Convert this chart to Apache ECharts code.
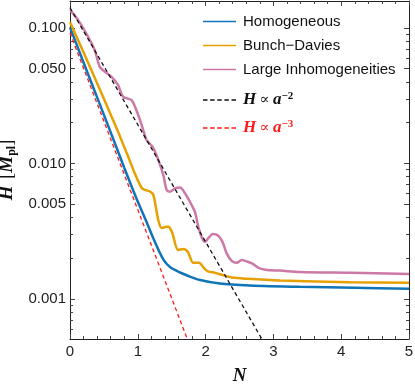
<!DOCTYPE html>
<html>
<head>
<meta charset="utf-8">
<script src="https://cdn.jsdelivr.net/npm/echarts@6/dist/echarts.min.js"></script>
<style>
  html, body { margin: 0; padding: 0; background: #fff; }
  #chart { width: 415px; height: 388px; }
</style>
</head>
<body>
<div id="chart"></div>
<script>
// e-folds N and Hubble rate H (in M_pl)
const blueN = [0, 0.3, 0.586, 0.8, 0.988, 1.12, 1.23, 1.376, 1.475, 1.62, 1.73, 1.92, 2.21, 2.65, 3.39, 4.2, 5]
const blueH = [0.101, 0.0413, 0.0177, 0.0093, 0.0054, 0.0038, 0.0028, 0.00196, 0.00172, 0.00157, 0.00149, 0.00138, 0.0013, 0.00126, 0.00123, 0.00121, 0.00119]

const orangeN = [0, 0.35, 0.698, 0.836, 1.058, 1.18, 1.229, 1.302, 1.352, 1.445, 1.504, 1.597, 1.681, 1.74, 1.819, 1.903, 1.976, 2.035, 2.139, 2.257, 2.389, 2.611, 3.097, 4.13, 5]
const orangeH = [0.1107, 0.0445, 0.01766, 0.01195, 0.00659, 0.00621, 0.00586, 0.00383, 0.00334, 0.00343, 0.00312, 0.0023, 0.00234, 0.00222, 0.00185, 0.00185, 0.00169, 0.0016, 0.00156, 0.0015, 0.00144, 0.00141, 0.00137, 0.00133, 0.00132]

const pinkN = [0, 0.118, 0.265, 0.364, 0.438, 0.512, 0.609, 0.708, 0.782, 0.904, 0.978, 1.058, 1.131, 1.229, 1.302, 1.376, 1.426, 1.475, 1.549, 1.622, 1.696, 1.77, 1.844, 1.892, 1.947, 1.991, 2.04, 2.109, 2.183, 2.249, 2.311, 2.385, 2.459, 2.532, 2.611, 2.684, 2.788, 2.906, 3.097, 3.392, 4.13, 5]
const pinkH = [0.1358, 0.1146, 0.0863, 0.0688, 0.0518, 0.0476, 0.0437, 0.038, 0.0311, 0.0294, 0.0248, 0.0192, 0.0149, 0.013, 0.01062, 0.00822, 0.00637, 0.00619, 0.00656, 0.00665, 0.00603, 0.0052, 0.00438, 0.00342, 0.00282, 0.00264, 0.00281, 0.00302, 0.00294, 0.00264, 0.00217, 0.00191, 0.00185, 0.00194, 0.00189, 0.00183, 0.00169, 0.00164, 0.00162, 0.00158, 0.00156, 0.00153]

// reference power laws: end points where they enter / leave the frame
const a2N = [0, 2.83]
const a2H = [0.141, 0.000507]
const a3N = [0, 1.73]
const a3H = [0.092, 0.000507]

// axis range and ticks
const hMin = 0.000507
const hMax = 0.158
const majorTicksH = [0.001, 0.005, 0.01, 0.05, 0.1]
const minorTicksH = [0.0006, 0.0007, 0.0008, 0.0009, 0.002, 0.003, 0.004, 0.006, 0.007, 0.008, 0.009, 0.02, 0.03, 0.04, 0.06, 0.07, 0.08, 0.09]

const lg = (v) => Math.log10(v)
const toPairs = (xs, ys) => xs.map((x, i) => [x, lg(ys[i])])

const sans = 'Liberation Sans, Arial, sans-serif'
const serif = 'Liberation Serif, DejaVu Serif, serif'
const frameColor = '#222'
const tickColor = '#444'

// legend glyphs: a plain stroke and a five-dash stroke
const solidIcon = 'path://M0,0h33v1.5h-33z'
const dashIcon = 'path://M0,0h4.5v1.5h-4.5z M7.1,0h4.5v1.5h-4.5z M14.2,0h4.5v1.5h-4.5z M21.3,0h4.5v1.5h-4.5z M28.4,0h4.5v1.5h-4.5z'

const makeYAxis = (position, ticks, length, showLine, showLabel) => ({
  type: 'value',
  position,
  min: lg(hMin),
  max: lg(hMax),
  splitLine: { show: false },
  axisLine: { show: showLine, lineStyle: { color: frameColor, width: 1 } },
  axisTick: {
    show: true,
    inside: true,
    length,
    customValues: ticks.map(lg),
    lineStyle: { color: tickColor, width: 1 },
  },
  axisLabel: {
    show: showLabel,
    customValues: ticks.map(lg),
    formatter: (v) => Math.pow(10, v).toFixed(3),
    color: '#222',
    fontFamily: sans,
    fontSize: 15,
    margin: 4,
  },
})

const chart = echarts.init(document.getElementById('chart'), null, { renderer: 'canvas' })

const yMain = makeYAxis('left', majorTicksH, 5, true, true)
yMain.name = '{i|H}  {b|[}{i|M}{sub|pl}{b|]}'
yMain.nameLocation = 'middle'
yMain.nameRotate = 90
yMain.nameGap = 46
yMain.nameTextStyle = {
  rich: {
    i: { fontFamily: serif, fontStyle: 'italic', fontWeight: 'bold', fontSize: 19, color: '#111' },
    b: { fontFamily: serif, fontSize: 18, color: '#111' },
    sub: { fontFamily: serif, fontWeight: 'bold', fontSize: 12, color: '#111', verticalAlign: 'bottom', padding: [8, 0, 0, 0] },
  },
}

const makeXAxis = (position, showLabel) => ({
  type: 'value',
  position,
  min: 0,
  max: 5,
  interval: 1,
  splitLine: { show: false },
  axisLine: { show: true, lineStyle: { color: frameColor, width: 1 } },
  axisTick: { show: true, inside: true, length: 5, lineStyle: { color: tickColor } },
  minorTick: { show: true, splitNumber: 5, length: 3, lineStyle: { color: tickColor } },
  axisLabel: {
    show: showLabel,
    color: '#222',
    fontFamily: sans,
    fontSize: 15,
    margin: 5,
  },
})

const xMain = makeXAxis('bottom', true)
xMain.name = 'N'
xMain.nameLocation = 'middle'
xMain.nameGap = 28
xMain.nameTextStyle = { fontFamily: serif, fontStyle: 'italic', fontWeight: 'bold', fontSize: 19, color: '#111' }

const lawRich = {
  i: { fontFamily: serif, fontStyle: 'italic', fontWeight: 'bold', fontSize: 17 },
  p: { fontFamily: serif, fontSize: 15 },
  sup: { fontFamily: serif, fontWeight: 'bold', fontSize: 11, verticalAlign: 'top', padding: [0, 0, 8, 0] },
}

const lineSeries = (name, xs, ys, color, width, smooth, dashed) => ({
  name,
  type: 'line',
  data: toPairs(xs, ys),
  symbol: 'none',
  smooth,
  clip: true,
  lineStyle: { color, width, type: dashed ? [4, 3] : 'solid' },
  itemStyle: { color },
  z: dashed ? 3 : 2,
})

chart.setOption({
  backgroundColor: '#fff',
  animation: false,
  grid: { left: 70, right: 6, top: 1, bottom: 49, containLabel: false, outerBoundsMode: 'none' },
  xAxis: [xMain, makeXAxis('top', false)],
  yAxis: [
    yMain,
    makeYAxis('left', minorTicksH, 3, false, false),
    makeYAxis('right', majorTicksH, 5, true, false),
    makeYAxis('right', minorTicksH, 3, false, false),
  ],
  legend: [
    {
      data: ['Homogeneous', 'Bunch\u2212Davies', 'Large Inhomogeneities'],
      orient: 'vertical',
      left: 198,
      top: 9,
      icon: solidIcon,
      itemWidth: 33,
      itemHeight: 15,
      itemGap: 9,
      textStyle: { fontFamily: sans, fontSize: 15, lineHeight: 15, color: '#111', padding: [0, 0, 0, 2] },
    },
    {
      data: [
        { name: 'a2', textStyle: { color: '#111' } },
        { name: 'a3', textStyle: { color: '#ff1a1a' } },
      ],
      orient: 'vertical',
      left: 198,
      top: 86,
      icon: dashIcon,
      itemWidth: 33,
      itemHeight: 18,
      itemGap: 10,
      formatter: (name) => (name === 'a2' ? '{i|H} {p|\u221d} {i|a}{sup|\u22122}' : '{i|H} {p|\u221d} {i|a}{sup|\u22123}'),
      textStyle: { lineHeight: 18, padding: [0, 0, 0, 2], rich: lawRich },
    },
  ],
  series: [
    lineSeries('Homogeneous', blueN, blueH, '#0f74b8', 2.5, 0.3, false),
    lineSeries('Bunch\u2212Davies', orangeN, orangeH, '#e6a000', 2.5, 0.3, false),
    lineSeries('Large Inhomogeneities', pinkN, pinkH, '#cc79a7', 2.5, 0.3, false),
    lineSeries('a2', a2N, a2H, '#111', 1.3, false, true),
    lineSeries('a3', a3N, a3H, '#ff1a1a', 1.3, false, true),
  ],
})
</script>
</body>
</html>
